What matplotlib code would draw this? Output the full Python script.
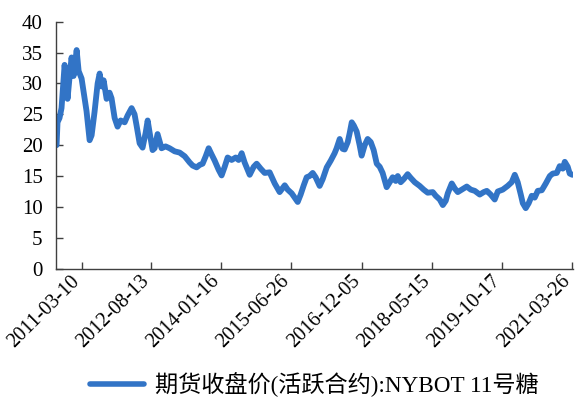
import matplotlib
matplotlib.use("Agg")
import matplotlib.pyplot as plt
import matplotlib.dates as mdates
import pandas as pd

# NYBOT #11 sugar, active contract close
dates = [
    "2010-09-04", "2010-09-11", "2010-09-26", "2010-10-11", "2010-11-03", "2010-11-25",
    "2010-12-10", "2010-12-25", "2011-01-09", "2011-02-01", "2011-02-16", "2011-03-10",
    "2011-04-01", "2011-04-16", "2011-05-09", "2011-05-24", "2011-06-15", "2011-07-08",
    "2011-07-23", "2011-08-07", "2011-08-22", "2011-09-13", "2011-10-05", "2011-10-20",
    "2011-11-12", "2011-12-04", "2011-12-27", "2012-01-26", "2012-02-17", "2012-03-18",
    "2012-04-09", "2012-04-24", "2012-05-17", "2012-06-08", "2012-07-01", "2012-07-16",
    "2012-07-31", "2012-08-22", "2012-09-06", "2012-09-28", "2012-10-28", "2012-11-27",
    "2012-12-27", "2013-02-03", "2013-03-12", "2013-04-19", "2013-05-26", "2013-06-17",
    "2013-07-17", "2013-08-09", "2013-08-31", "2013-09-23", "2013-10-15", "2013-11-06",
    "2013-11-29", "2013-12-29", "2014-01-20", "2014-02-12", "2014-03-06", "2014-04-05",
    "2014-05-05", "2014-05-27", "2014-06-19", "2014-07-11", "2014-08-18", "2014-09-17",
    "2014-10-09", "2014-11-08", "2014-12-08", "2015-01-14", "2015-02-21", "2015-03-30",
    "2015-05-07", "2015-05-29", "2015-06-28", "2015-07-20", "2015-08-12", "2015-09-03",
    "2015-09-26", "2015-10-18", "2015-11-09", "2015-12-02", "2015-12-24", "2016-01-23",
    "2016-02-15", "2016-03-16", "2016-04-15", "2016-05-14", "2016-05-29", "2016-06-21",
    "2016-07-13", "2016-07-28", "2016-08-20", "2016-09-04", "2016-09-19", "2016-10-04",
    "2016-10-26", "2016-11-17", "2016-12-02", "2016-12-25", "2017-01-16", "2017-02-08",
    "2017-03-02", "2017-03-25", "2017-04-16", "2017-05-08", "2017-06-07", "2017-06-30",
    "2017-07-22", "2017-08-14", "2017-08-29", "2017-09-20", "2017-10-13", "2017-11-11",
    "2017-12-04", "2018-01-03", "2018-02-09", "2018-03-11", "2018-04-10", "2018-05-18",
    "2018-06-09", "2018-07-09", "2018-08-01", "2018-08-23", "2018-09-07", "2018-10-07",
    "2018-10-29", "2018-11-21", "2018-12-21", "2019-01-27", "2019-02-26", "2019-03-28",
    "2019-05-04", "2019-06-03", "2019-06-26", "2019-07-25", "2019-08-24", "2019-09-16",
    "2019-10-23", "2019-11-29", "2019-12-29", "2020-01-21", "2020-02-12", "2020-03-06",
    "2020-03-21", "2020-04-12", "2020-05-04", "2020-05-27", "2020-06-18", "2020-07-11",
    "2020-08-10", "2020-09-09", "2020-10-09", "2020-10-31", "2020-11-30", "2020-12-22",
    "2021-01-14", "2021-01-29", "2021-02-20", "2021-03-07", "2021-03-26",
]
prices = [
    20.0, 23.7, 24.4, 26.0, 33.0, 27.5,
    31.0, 34.2, 31.2, 35.4, 32.0, 30.8,
    27.6, 25.5, 20.8, 21.6, 25.4, 30.0,
    31.6, 29.5, 30.5, 27.5, 28.5, 27.6,
    24.4, 23.0, 24.0, 23.7, 24.8, 26.0,
    25.0, 23.2, 20.3, 19.6, 22.0, 24.0,
    22.0, 19.2, 19.5, 21.8, 19.5, 19.8,
    19.5, 19.0, 18.8, 18.2, 17.2, 16.7,
    16.4, 16.8, 17.0, 18.2, 19.5, 18.5,
    17.5, 16.0, 15.1, 16.5, 18.0, 17.6,
    18.0, 17.6, 18.7, 17.2, 15.2, 16.5,
    17.0, 16.2, 15.5, 15.6, 13.8, 12.4,
    13.5, 12.8, 12.2, 11.5, 10.8, 12.0,
    13.5, 14.8, 15.0, 15.5, 14.8, 13.4,
    14.5, 16.4, 17.5, 18.7, 19.5, 21.0,
    19.4, 19.3, 20.5, 22.0, 23.7, 23.2,
    22.2, 20.0, 18.3, 20.0, 21.0, 20.5,
    19.2, 17.0, 16.5, 15.5, 13.2, 14.0,
    14.8, 14.2, 15.0, 14.0, 14.5, 15.3,
    14.7, 14.0, 13.4, 12.8, 12.3, 12.4,
    11.8, 11.2, 10.3, 11.0, 12.2, 13.8,
    13.0, 12.4, 12.8, 13.3, 12.8, 12.6,
    12.0, 12.4, 12.6, 12.0, 11.2, 12.5,
    12.8, 13.4, 14.0, 15.2, 14.0, 12.0,
    10.6, 9.8, 10.6, 11.8, 11.5, 12.6,
    12.7, 13.8, 15.0, 15.4, 15.5, 16.6,
    16.2, 17.3, 16.5, 15.4, 15.2,
]
tick_dates = ["2011-03-10", "2012-08-13", "2014-01-16", "2015-06-26",
              "2016-12-05", "2018-05-15", "2019-10-17", "2021-03-26"]
y_ticks = [0, 5, 10, 15, 20, 25, 30, 35, 40]
series_name = "期货收盘价(活跃合约):NYBOT 11号糖"

LINE_COLOR = "#3274C6"
AXIS_COLOR = "#404040"
FONTS = ["Liberation Serif", "Noto Sans CJK SC"]

plt.rcParams["font.family"] = FONTS

x = pd.to_datetime(dates)
ticks = pd.to_datetime(tick_dates)

fig = plt.figure(figsize=(5.76, 4.01), dpi=100)
ax = fig.add_axes([0.098, 0.33, 0.896, 0.616])

ax.plot(x, prices, color=LINE_COLOR, lw=4.2, solid_joinstyle="round",
        solid_capstyle="round", label=series_name)

ax.set_ylim(0, 40)
ax.set_yticks(y_ticks)
ax.set_xlim(pd.Timestamp("2010-09-03"), pd.Timestamp("2021-03-28"))
ax.set_xticks(mdates.date2num(ticks))
ax.set_xticklabels([])

# rotated date labels, right end just under each tick
for d, text in zip(ticks, tick_dates):
    ax.annotate(text, xy=(mdates.date2num(d), 0),
                xycoords=("data", "axes fraction"),
                xytext=(-3.5, -7), textcoords="offset points",
                rotation=45, ha="right", va="center",
                rotation_mode="anchor", fontsize=14.5, annotation_clip=False)

for side in ("top", "right"):
    ax.spines[side].set_visible(False)
for side in ("left", "bottom"):
    ax.spines[side].set_color(AXIS_COLOR)
    ax.spines[side].set_linewidth(1.0)

ax.tick_params(axis="both", direction="in", length=5, width=1.0,
               color=AXIS_COLOR, labelcolor="black")
ax.tick_params(axis="y", pad=10, labelsize=15)

leg = fig.legend(loc="center", bbox_to_anchor=(0.545, 0.04), frameon=False,
                 fontsize=16.7, handlelength=2.35, handletextpad=0.45)
for line in leg.get_lines():
    line.set_linewidth(4.0)

fig.savefig("out.png", dpi=100)
